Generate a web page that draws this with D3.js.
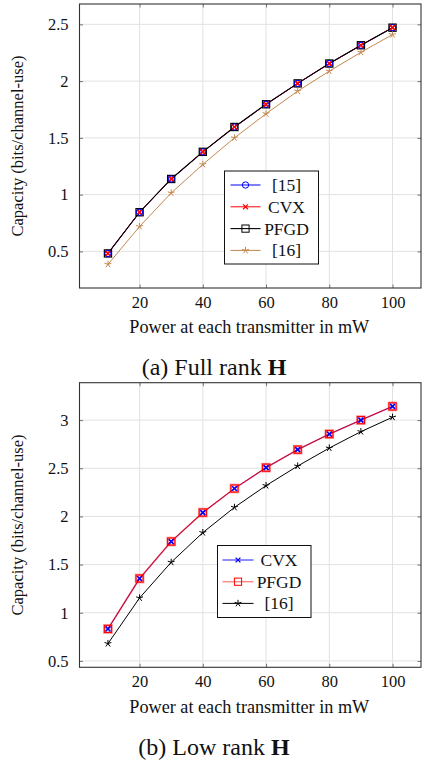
<!DOCTYPE html>
<html>
<head>
<meta charset="utf-8">
<script src="https://cdn.jsdelivr.net/npm/d3@7"></script>
<style>
  html, body { margin: 0; padding: 0; background: #fff; }
  svg { display: block; }
  text { font-family: "Liberation Serif", "DejaVu Serif", serif; fill: #111; }
</style>
</head>
<body>
<svg id="fig" width="422" height="761"></svg>
<script>
// Transmit power (mW) shared by both panels
const power = [10, 20, 30, 40, 50, 60, 70, 80, 90, 100];

// (a) Full rank H
const fullRef15 = [0.482, 0.845, 1.138, 1.377, 1.596, 1.796, 1.980, 2.155, 2.316, 2.471];
const fullCVX   = [0.482, 0.845, 1.138, 1.377, 1.596, 1.796, 1.980, 2.155, 2.316, 2.471];
const fullPFGD  = [0.482, 0.845, 1.138, 1.377, 1.596, 1.796, 1.980, 2.155, 2.316, 2.471];
const fullRef16 = [0.386, 0.719, 1.015, 1.266, 1.500, 1.713, 1.912, 2.088, 2.254, 2.410];

// (b) Low rank H
const lowCVX   = [0.832, 1.355, 1.739, 2.040, 2.290, 2.506, 2.693, 2.855, 3.000, 3.142];
const lowPFGD  = [0.832, 1.355, 1.739, 2.040, 2.290, 2.506, 2.693, 2.855, 3.000, 3.142];
const lowRef16 = [0.680, 1.154, 1.524, 1.832, 2.094, 2.320, 2.523, 2.710, 2.880, 3.030];

// Tick values
const xTicks = [20, 40, 60, 80, 100];
const yTicksFull = [0.5, 1, 1.5, 2, 2.5];
const yTicksLow  = [0.5, 1, 1.5, 2, 2.5, 3];

// Labels
const xLabel = "Power at each transmitter in mW";
const yLabel = "Capacity (bits/channel-use)";
const captionFull = ["(a) Full rank ", "H"];
const captionLow  = ["(b) Low rank ", "H"];

const svg = d3.select("#fig");

// pad a [min,max] extent by 10% of its span on each side
function enlarge(ext) {
  const pad = (ext[1] - ext[0]) * 0.1;
  return [ext[0] - pad, ext[1] + pad];
}

// marker painters
function markCircle(g, x, y, color) {
  g.append("circle").attr("cx", x).attr("cy", y).attr("r", 3.2)
    .attr("fill", "none").attr("stroke", color).attr("stroke-width", 1);
}
function markCross(g, x, y, color, sw) {
  const s = 2.4;
  g.append("path").attr("d", `M${x-s},${y-s}L${x+s},${y+s}M${x-s},${y+s}L${x+s},${y-s}`)
    .attr("stroke", color).attr("stroke-width", sw || 1.3).attr("fill", "none");
}
function markSquare(g, x, y, color, sw, halo) {
  const s = 3.6;
  if (halo) {
    g.append("rect").attr("x", x - s).attr("y", y - s).attr("width", 2*s).attr("height", 2*s)
      .attr("fill", "none").attr("stroke", color).attr("stroke-width", 2.4).attr("stroke-opacity", 0.45);
  }
  g.append("rect").attr("x", x - s).attr("y", y - s).attr("width", 2*s).attr("height", 2*s)
    .attr("fill", "none").attr("stroke", color).attr("stroke-width", sw || 1.2);
}
function markStar(g, x, y, color) {
  const r = 3.6;
  let d = "";
  for (let k = 0; k < 5; k++) {
    const a = -Math.PI / 2 + k * 2 * Math.PI / 5;
    d += `M${x},${y}L${x + r*Math.cos(a)},${y + r*Math.sin(a)}`;
  }
  g.append("path").attr("d", d).attr("stroke", color).attr("stroke-width", 1).attr("fill", "none");
}

function panel(cfg) {
  const { top, bottom, left, right, series, yTicks, legend, caption, xLabelY, captionY } = cfg;
  const allY = series.flatMap(s => s.values);
  const x = d3.scaleLinear().domain(enlarge(d3.extent(power))).range([left, right]);
  const y = d3.scaleLinear().domain(enlarge(d3.extent(allY))).range([bottom, top]);
  const g = svg.append("g");

  // grid
  g.append("g").selectAll("line").data(xTicks).join("line")
    .attr("x1", d => x(d)).attr("x2", d => x(d)).attr("y1", top).attr("y2", bottom)
    .attr("stroke", "#e2e2e2").attr("stroke-width", 1);
  g.append("g").selectAll("line").data(yTicks).join("line")
    .attr("y1", d => y(d)).attr("y2", d => y(d)).attr("x1", left).attr("x2", right)
    .attr("stroke", "#e2e2e2").attr("stroke-width", 1);

  // axes (inward ticks on all four sides)
  const fmt = d => String(d);
  const axB = g.append("g").attr("transform", `translate(0,${bottom})`)
    .call(d3.axisBottom(x).tickValues(xTicks).tickSize(-3.5).tickFormat(fmt).tickPadding(8));
  const axT = g.append("g").attr("transform", `translate(0,${top})`)
    .call(d3.axisTop(x).tickValues(xTicks).tickSize(-3.5).tickFormat(""));
  const axL = g.append("g").attr("transform", `translate(${left},0)`)
    .call(d3.axisLeft(y).tickValues(yTicks).tickSize(-3.5).tickFormat(fmt).tickPadding(11));
  const axR = g.append("g").attr("transform", `translate(${right},0)`)
    .call(d3.axisRight(y).tickValues(yTicks).tickSize(-3.5).tickFormat(""));
  [axB, axT, axL, axR].forEach(a => {
    a.attr("font-family", null).attr("font-size", null);
    a.select(".domain").remove();
    a.selectAll(".tick line").attr("stroke", "#555").attr("stroke-width", 0.8);
    a.selectAll(".tick text").style("font-family", "'Liberation Serif', serif")
      .style("font-size", "16.5px").attr("fill", "#111");
  });
  g.append("rect").attr("x", left).attr("y", top).attr("width", right - left).attr("height", bottom - top)
    .attr("fill", "none").attr("stroke", "#333").attr("stroke-width", 1.1);

  // lines
  const line = vals => d3.line().x((d, i) => x(power[i])).y(d => y(d))(vals);
  series.forEach(s => {
    g.append("path").attr("d", line(s.values)).attr("fill", "none")
      .attr("stroke", s.color).attr("stroke-width", s.width).attr("stroke-opacity", s.lineOpacity || 1);
  });
  // markers
  series.forEach(s => {
    s.values.forEach((v, i) => s.mark(g, x(power[i]), y(v)));
  });
  (cfg.overlay || []).forEach(s => {
    s.values.forEach((v, i) => s.mark(g, x(power[i]), y(v)));
  });

  // legend
  const lg = g.append("g");
  lg.append("rect").attr("x", legend.x).attr("y", legend.y).attr("width", legend.w).attr("height", legend.h)
    .attr("fill", "#fff").attr("stroke", "#111").attr("stroke-width", 1);
  series.forEach((s, i) => {
    const ry = legend.y + legend.first + i * legend.step;
    lg.append("line").attr("x1", legend.x + legend.l0).attr("x2", legend.x + legend.l1)
      .attr("y1", ry).attr("y2", ry).attr("stroke", s.color).attr("stroke-width", s.legendWidth || s.width)
      .attr("stroke-opacity", s.legendOpacity || 1);
    s.legendMark(lg, legend.x + (legend.l0 + legend.l1) / 2, ry);
    lg.append("text").attr("x", legend.x + legend.tx).attr("y", ry).attr("dy", "0.34em")
      .attr("text-anchor", "middle").style("font-size", "17.5px").text(s.name);
  });

  // axis titles
  g.append("text").attr("x", (left + right) / 2 - 1).attr("y", xLabelY).attr("dy", "0.34em")
    .attr("text-anchor", "middle").style("font-size", "18.2px").text(xLabel);
  g.append("text").attr("transform", `translate(17,${(top + bottom) / 2}) rotate(-90)`)
    .attr("dy", "0.34em").attr("text-anchor", "middle").style("font-size", "16.5px").text(yLabel);

  // caption
  const cap = svg.append("text").attr("x", 214).attr("y", captionY).attr("dy", "0.34em")
    .attr("text-anchor", "middle").style("font-size", "24px");
  cap.append("tspan").text(caption[0]);
  cap.append("tspan").attr("font-weight", "bold").text(caption[1]);
}

const blue = "#0000ff", red = "#ff0000", black = "#000000", brown = "#c4874c";

panel({
  top: 4, bottom: 288, left: 79.5, right: 421,
  yTicks: yTicksFull, xLabelY: 327, captionY: 367,
  caption: captionFull,
  series: [
    { name: "[15]", values: fullRef15, color: blue, width: 1,
      mark: (g, a, b) => markCircle(g, a, b, blue), legendMark: (g, a, b) => markCircle(g, a, b, blue) },
    { name: "CVX", values: fullCVX, color: red, width: 1,
      mark: (g, a, b) => markCross(g, a, b, red), legendMark: (g, a, b) => markCross(g, a, b, red) },
    { name: "PFGD", values: fullPFGD, color: black, width: 1.1,
      mark: (g, a, b) => markSquare(g, a, b, black), legendMark: (g, a, b) => markSquare(g, a, b, black, 1) },
    { name: "[16]", values: fullRef16, color: brown, width: 1,
      mark: (g, a, b) => markStar(g, a, b, brown), legendMark: (g, a, b) => markStar(g, a, b, brown) }
  ],
  overlay: [
    { values: fullRef15, mark: (g, a, b) => markCircle(g, a, b, blue) },
    { values: fullCVX, mark: (g, a, b) => markCross(g, a, b, red) }
  ],
  legend: { x: 224.5, y: 171, w: 94, h: 93, first: 14, step: 21.8, l0: 6, l1: 36, tx: 62 }
});

panel({
  top: 382.7, bottom: 667.3, left: 79.5, right: 421,
  yTicks: yTicksLow, xLabelY: 707, captionY: 747,
  caption: captionLow,
  series: [
    { name: "CVX", values: lowCVX, color: blue, width: 0.9,
      mark: (g, a, b) => markCross(g, a, b, blue), legendMark: (g, a, b) => markCross(g, a, b, blue) },
    { name: "PFGD", values: lowPFGD, color: red, width: 1.5, lineOpacity: 0.7,
      legendWidth: 1.5, legendOpacity: 0.45,
      mark: (g, a, b) => markSquare(g, a, b, red, 1, true), legendMark: (g, a, b) => markSquare(g, a, b, red, 1) },
    { name: "[16]", values: lowRef16, color: black, width: 1,
      mark: (g, a, b) => markStar(g, a, b, black), legendMark: (g, a, b) => markStar(g, a, b, black) }
  ],
  overlay: [
    { values: lowCVX, mark: (g, a, b) => markCross(g, a, b, blue) }
  ],
  legend: { x: 217.5, y: 545.5, w: 93.5, h: 72, first: 14.5, step: 21.7, l0: 5, l1: 36, tx: 61.5 }
});
</script>
</body>
</html>
